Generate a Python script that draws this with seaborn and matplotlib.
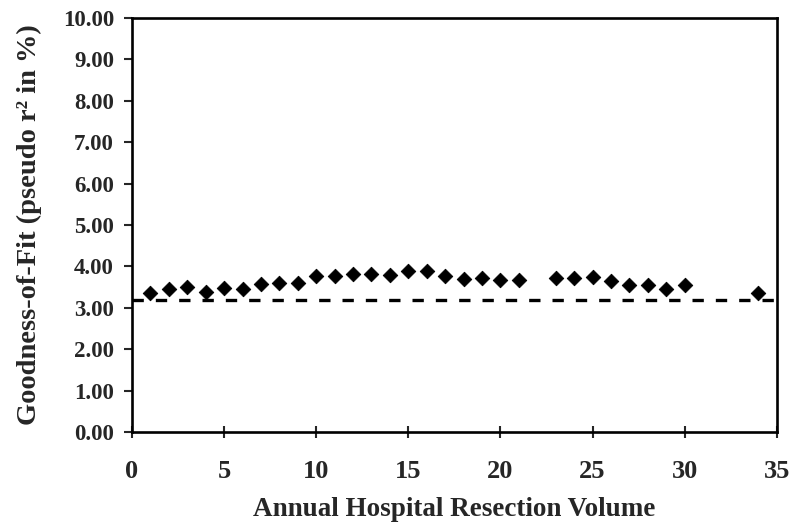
import numpy as np
import pandas as pd
import matplotlib
matplotlib.use('Agg')
import matplotlib.pyplot as plt
import seaborn as sns

sns.set_style('white')
plt.rcParams['font.family'] = ['Liberation Serif', 'DejaVu Serif']
plt.rcParams['font.weight'] = 'bold'

# goodness of fit per annual hospital volume cut-off
volume = [1, 2, 3, 4, 5, 6, 7, 8, 9, 10, 11, 12, 13, 14, 15, 16, 17,
          18, 19, 20, 21, 23, 24, 25, 26, 27, 28, 29, 30, 34]
pseudo_r2 = [3.35, 3.46, 3.51, 3.38, 3.49, 3.46, 3.57, 3.61, 3.60, 3.78,
             3.77, 3.82, 3.82, 3.79, 3.90, 3.90, 3.78, 3.69, 3.73, 3.67,
             3.67, 3.73, 3.73, 3.75, 3.64, 3.54, 3.56, 3.45, 3.56, 3.37]
baseline = 3.19

df = pd.DataFrame({'volume': volume, 'r2': pseudo_r2})

fig = plt.figure(figsize=(8, 5.32), dpi=100)
ax = fig.add_axes([0.165, 0.188, 0.806, 0.778])

ax.plot([0, 35], [baseline, baseline], color='black', lw=2.4,
        dashes=(3.4, 3.6), zorder=1)
sns.scatterplot(data=df, x='volume', y='r2', marker='D', color='black',
                s=55, edgecolor='black', ax=ax, zorder=2)

ax.set_xlim(0, 35)
ax.set_ylim(0, 10)
ax.set_xticks(range(0, 36, 5))
ax.set_yticks(np.arange(0, 10.01, 1))
ax.set_yticklabels(['%.2f' % v for v in np.arange(0, 10.01, 1)])
ax.tick_params(axis='y', direction='out', length=6, width=1.5,
               labelsize=16.5, pad=7, left=True)
ax.tick_params(axis='x', direction='inout', length=8, width=1.5,
               labelsize=19, pad=16, bottom=True)
for lab in ax.get_xticklabels() + ax.get_yticklabels():
    lab.set_fontweight('bold')

for sp in ax.spines.values():
    sp.set_color('black')
    sp.set_linewidth(1.9)

ax.set_xlabel('Annual Hospital Resection Volume', fontsize=19.5,
              fontweight='bold', labelpad=10)
ax.set_ylabel('Goodness-of-Fit (pseudo r² in %)', fontsize=20.5,
              fontweight='bold', labelpad=15)

fig.savefig('out.png', dpi=100)
